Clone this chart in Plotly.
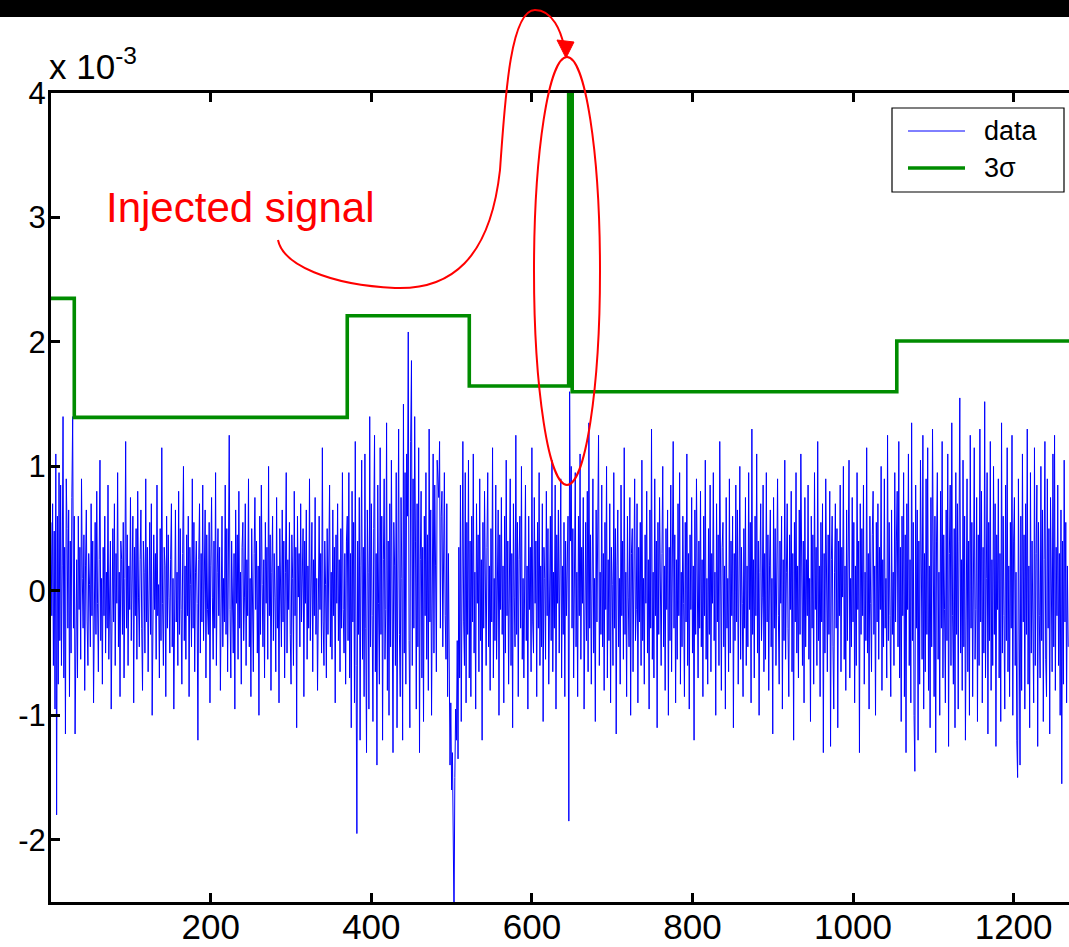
import plotly.graph_objects as go

# ---------------- data (blue trace, units of 1e-5; plotted in units of 1e-3) ----------------
data_a = [55,-20,70,-60,48,-95,110,-180,60,-75,95,-40,85,-60,20,140,-70,35,-115,90,
          50,-30,65,-85,40,-50,75,140,-30,60]
data_b = [-115,-40,25,-70,60,-15,35,-55,90,10,-30,45,-80,20,65,-25,-60,30,5,-45,
          70,-20,40,-90,15,55,-35,80,-10,-65,25,105,-40,10,-75,35,-20,60,-50,15,
          -30,85,-55,20,40,-95,5,50,-25,70,-60,30,-10,95,-45,15,-85,40,25,-35,
          55,-70,10,120,-30,45,-60,20,-15,75,-40,5,60,-90,35,-20,50,-55,80,-5,
          -45,25,65,-30,-80,40,15,-50,90,-25,35,-65,10,55,-35,70,-100,20,45,-15,
          30,-55,85,-20,5,-70,50,-40,115,-10,-60,35,20,-85,60,-30,45,-5,-50,25,
          70,-45,10,-95,40,65,-25,15,-60,80,-35,50,-15,-75,30,100,-40,20,-55,45,
          -20,60,-85,35,5,-45,90,-30,55,-65,15,40,-10,-120,25,70,-50,30,-25,85,
          -40,10,65,-70,45,-15,-35,55,-90,20,75,-5,-55,40,-30,95,-60,15,50,-20,
          35,-80,25,60,-45,10,-25,85,-35,50,-65,20,125,-15,-70,40,5,-50,30,-95,
          65,-10,45,-55,80,-30,15,-75,35,55,-40,-5,70,-60,25,-20,90,-45,10,-85,
          50,-25,-65,30,75,-15,40,-50,20,-100,60,-35,85,5,-45,25,-70,55,-10,35,
          -55,100,-20,45,-80,15,60,-40,30,-5,-65,75,-30,20,-90,50,10,-45,65,-25,
          40,-70,15,95,-50,25,-15,55,-35,-75,45,10,-60,80,-20,35,-110,60,-5,30,
          -45,70,-25,5,50,-85,40,-10,65,-55,20,-30,90,-40,15,55,-65,25,-20,75,
          -35,10,-80,45,60,-15,30,-50,115,-25,-60,40,5,-70,50,-35,20,85,-45,15,
          -55,65,-20,35,-90,45,-10,70,-40,25,-65,50,-30,95,-15,-50,30,-75,40]
data_c = [60,-40,95,-70,30,-110,80,-25,55,-90,120,-60,-195,40,-35,75,-120,20,105,-55,
          35,-85,110,-30,-130,65,15,-95,140,-45,70,-20,-105,50,125,-65,30,-140,85,-10,
          -75,115,-35,60,-120,25,90,-55,-15,135,-80,40,-100,70,-45,105,-25,-130,55,20,
          -60,95,-110,45,130,-35,-85,75,10,-120,150,-50,95,-75,110,60,208,-40,-110,120,
          185,-60,90,-30,140,40,-95,70,-45,115,-130,25,80,-70,35,-105,60,-20,95,-55,
          45,-80,130,-25,65,-100,30,110,-50,85,20,-65,105,90,75,120,-30,60,80,-45,
          40,95,-20,-55,70,-85,30,-60,-140,-90,-160,-130,-210,-265,-150,-95,-120,-40,-135,35,
          -70,85,-105,40,120,-25,-60,95,-90,55,-35,105,-70]
data_d = [40,-85,60,-25,110,-50,15,-95,70,-10,45,-65,90,-40,25,-120,55,-30,80,-15,
          -60,35,95,-45,20,-80,50,-25,115,-70,10,-40,85,-55,30,65,-100,45,-15,75,
          -35,20,-90,60,-50,105,-20,40,-75,15,90,-60,30,-110,70,-5,-45,125,-35,55,
          -85,25,60,-30,100,-55,10,-70,45,85,-40,20,-95,60,-15,35,-65,115,-25,-50,
          75,-10,40,-85,55,-30,95,-60,20,-45,70,-105,35,10,-55,80,-20,50,-75,25,
          60,-40,105,-65,15,-30,85,-95,45,-10,65,-50,30,90,-70,20,-35,55,-85,40,-20,35]
data_injected = [60,-185,160,40,100,-30]
data_e = [50,-70,30,95,-45,15,-85,60,-20,110,-55,35,-10,75,-95,25,55,-40,80,-65,
          135,-30,45,-75,20,90,-50,10,-105,65,-25,40,125,-60,15,-35,85,-45,30,-80,
          55,-15,100,-70,25,-40,70,-90,35,5,-60,95,-30,50,-115,20,65,-45,10,-75,
          85,-20,40,-55,115,-35,15,-85,60,-5,-45,75,-100,30,50,-65,20,90,-40,-15,
          70,-90,35,-25,55,-60,105,-40,10,-75,45,-10,80,-50,25,-95,65,-30,130,-55,
          15,-70,90,-20,40,-110,55,-35,75,-5,-60,30,100,-45,20,-80,50,-15,65,-100,
          35,-40,85,-65,10,120,-30,45,-90,25,-55,70,-20,95,-75,15,-45,60,-10,-85,
          55,-25,110,-60,30,-95,45,-15,75,-50,20,-120,65,-35,90,-5,-70,40,-30,80,
          -45,25,-85,60,-20,105,-55,10,-75,50,-35,85,-65,30,-10,95,-40,15,-100,70,
          -25,45,-60,120,-15,-80,35,55,-45,20,-95,75,-30,10,-65,90,-50,40,-20,60,
          -110,30,-40,85,-25,65,-75,15,100,-55,35,-10,-85,50,-30,75,-60,20,-45,95,
          -15,55,-90,130,-35,25,-70,60,-20,110,-50,40,-100,15,70,-40,-5,85,-65,30,
          -55,95,-25,45,-80,20,65,-45,10,-115,75,-30,50,-60,35,90,-20,-75,40,-10,
          60,-95,25,-40,105,-55,15,70,-30,-85,45,-15,80,-65,30,-120,55,-25,95,-50,
          20,-70,65,-35,110,-10,-60,40,-90,75,-45,25,-20,85,-55,10,-105,60,-30,45,
          -75,95,-15,35,-60,120,-40,20,-85,55,-25,70,-130,30,-50,90,-10,-65,45,-35,
          80,-125,25,60,-45,-95,15,70,-30,50,-110,40,-20,85,-65,35,-5,100,-55,20,
          -80,65,-40,30,105,-70,10,-45,75,-25,55,-90,20,-60,95,-15,40,-130,70,-35,
          50,-20,85,-75,15,-40,115,-50,30,-95,60,-10,-65,45,80,-35,20,-100,55,-25,
          70,-55,35,-15,100,-80,25,-45,90,-30,10,-70,125,-40,55,-20,-85,65,-35,15,-60,95,-25,40]
data_f = [80,-45,120,-70,35,-105,60,-20,95,-85,45,-130,70,-15,110,-60,25,-90,135,-40,
          55,-100,-145,85,-30,65,-120,40,-75,105,-10,-55,125,-95,30,-65,90,-35,115,-80,
          20,-110,75,-45,130,-25,-85,60,-130,40,95,-55,15,-100,80,-30,120,-70,45,-15,
          -90,65,-40,110,-125,30,85,-60,135,-20,-75,50,-110,95,-35,70,-95,40,155,-50,
          25,-80,105,-45,60,-120,15,90,-65,40,-100,125,-30,55,-85,20,115,-55,-15,75,
          -105,45,-60,130,-25,80,-90,35,-50,152,-70,10,95,-115,55,-40,120,-80,25,-60,
          100,-35,70,-125,45,-15,90,-70,30,-105,135,-50,60,-20,-95,85,-40,115,-65,20,
          -85,55,-30,125,-100,40,75,-60,15,-120,-150,90,-45,-140,60,-80,110,-25,45,-95,
          70,-35,130,-75,20,-110,95,-50,40,-15,-90,115,-60,30,85,-125,55,-20,-70,100,
          -40,65,-105,25,120,-55,-85,90,-30,50,-115,75,-10,-65,110,-45,125,-80,35,-20,
          85,-60,30,-100,65,-155,40,-75,105,-25,55,-90,20,-45]

data_e5 = data_a + data_b + data_c + data_d + data_injected + data_e + data_f
data_y = [v / 100.0 for v in data_e5]          # units of 1e-3
data_x = list(range(1, len(data_y) + 1))

# ---------------- 3 sigma threshold (piecewise constant, units of 1e-3) ----------------
sigma_edges = [1, 30, 370, 522, 645.8, 650.2, 1054.5, 1270]
sigma_levels = [2.35, 1.394, 2.21, 1.646, 6.0, 1.60, 2.007]
sig_x = sigma_edges
sig_y = sigma_levels + [sigma_levels[-1]]

# ---------------- axis ticks ----------------
x_ticks = [200, 400, 600, 800, 1000, 1200]
y_ticks = [-2, -1, 0, 1, 2, 3, 4]
y_ticktext = ["-2", "-1", "0", "1", "2", "3", "4"]
x_range = [1, 1269]
y_range = [-2.5, 4]

# ---------------- layout geometry (pixels) ----------------
FW, FH = 1069, 947
L, T, B = 51, 93, 902
W, H = FW - L, B - T
FONT = "Liberation Sans, Arial, Helvetica, sans-serif"
BLUE, GREEN = "#0000ff", "#008c00"


def px(xp):
    return (xp - L) / W


def py(yp):
    return (B - yp) / H


fig = go.Figure()
fig.add_trace(go.Scatter(x=data_x, y=data_y, mode="lines", name="data",
                         line=dict(color=BLUE, width=1), showlegend=False))
fig.add_trace(go.Scatter(x=sig_x, y=sig_y, mode="lines", name="3σ",
                         line=dict(color=GREEN, width=3.6, shape="hv"), showlegend=False))
# empty trace so the mirrored top axis is drawn
fig.add_trace(go.Scatter(x=[], y=[], xaxis="x2", showlegend=False, hoverinfo="skip"))

axis_common = dict(showgrid=False, zeroline=False, showline=True, linecolor="black",
                   linewidth=3, ticks="inside", ticklen=9, tickwidth=2.5, tickcolor="black",
                   automargin=False)

fig.update_layout(
    width=FW, height=FH, autosize=False,
    margin=dict(l=L, r=0, t=T, b=FH - B, pad=0),
    paper_bgcolor="white", plot_bgcolor="white",
    font=dict(family=FONT, color="black"),
    xaxis=dict(range=x_range, tickvals=x_ticks, tickfont=dict(size=35),
               ticklabelstandoff=-8, **axis_common),
    xaxis2=dict(range=x_range, overlaying="x", side="top", tickvals=x_ticks,
                showticklabels=False, **axis_common),
    yaxis=dict(range=y_range, tickvals=y_ticks, ticktext=y_ticktext,
               tickfont=dict(size=31), ticklabelstandoff=-4, **axis_common),
    showlegend=False,
)

# black bar across the top of the picture
fig.add_shape(type="rect", xref="paper", yref="paper",
              x0=px(-5), x1=px(FW + 5), y0=py(17), y1=py(-5),
              fillcolor="black", line=dict(width=0), layer="above")

# legend box (drawn by hand to match the original's long sample lines)
fig.add_shape(type="rect", xref="paper", yref="paper",
              x0=px(892), x1=px(1064), y0=py(192), y1=py(108),
              fillcolor="white", line=dict(color="black", width=1.2), layer="above")
fig.add_shape(type="line", xref="paper", yref="paper",
              x0=px(908), x1=px(965), y0=py(131), y1=py(131),
              line=dict(color=BLUE, width=1), layer="above")
fig.add_shape(type="line", xref="paper", yref="paper",
              x0=px(908), x1=px(965), y0=py(168), y1=py(168),
              line=dict(color=GREEN, width=3.6), layer="above")
fig.add_annotation(xref="paper", yref="paper", x=px(982), y=py(131),
                   xanchor="left", yanchor="middle", showarrow=False,
                   text="data", font=dict(size=27, color="black", family=FONT))
fig.add_annotation(xref="paper", yref="paper", x=px(982), y=py(168),
                   xanchor="left", yanchor="middle", showarrow=False,
                   text="3σ", font=dict(size=27, color="black", family=FONT))

# red hand-drawn curve with arrow
pts = [(278, 240), (283, 265), (330, 285), (395, 288),
       (450, 290), (490, 260), (500, 170),
       (505, 100), (510, 10), (535, 10),
       (553, 10), (561, 32), (564, 46)]
path = "M {:.5f},{:.5f}".format(px(pts[0][0]), py(pts[0][1]))
for i in range(1, len(pts), 3):
    path += " C " + " ".join("{:.5f},{:.5f}".format(px(a), py(b)) for a, b in pts[i:i + 3])
fig.add_shape(type="path", xref="paper", yref="paper", path=path,
              line=dict(color="red", width=2))
arrow = [(566, 58), (557, 40), (574, 42)]
apath = "M " + " L ".join("{:.5f},{:.5f}".format(px(a), py(b)) for a, b in arrow) + " Z"
fig.add_shape(type="path", xref="paper", yref="paper", path=apath,
              fillcolor="red", line=dict(color="red", width=1))

# red ellipse around the injected signal
fig.add_shape(type="circle", xref="paper", yref="paper",
              x0=px(534), x1=px(600), y0=py(485), y1=py(57),
              line=dict(color="red", width=2))

# text annotations
fig.add_annotation(xref="paper", yref="paper", x=px(104), y=py(207),
                   xanchor="left", yanchor="middle", showarrow=False,
                   text="Injected signal", font=dict(size=42, color="red", family=FONT))
fig.add_annotation(xref="paper", yref="paper", x=px(47), y=py(88),
                   xanchor="left", yanchor="bottom", showarrow=False,
                   text="x 10<sup>-3</sup>", font=dict(size=35, color="black", family=FONT))

fig.write_html("out.html",
               config={"displayModeBar": False},
               post_script="document.documentElement.style.overflow='hidden';"
                           "document.body.style.margin='0';"
                           "document.body.style.overflow='hidden';")
